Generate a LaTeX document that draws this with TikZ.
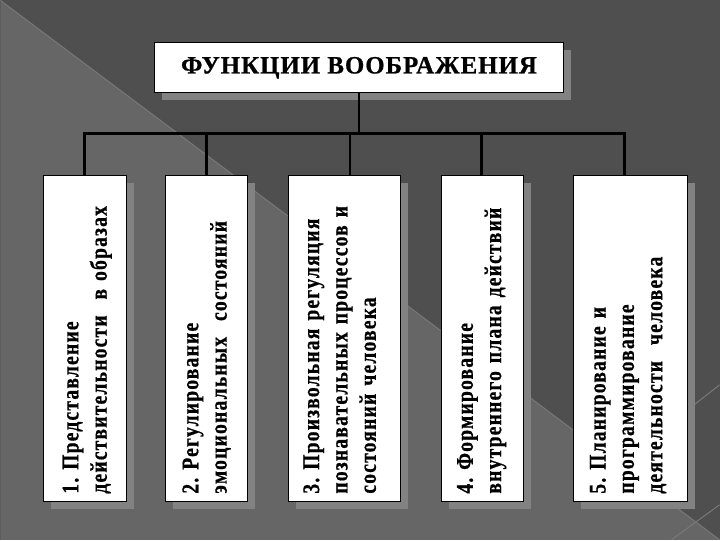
\documentclass[tikz,border=0pt]{standalone}
\usepackage{fontspec}
\setmainfont{Liberation Serif}
\newfontfamily\lblfont{Liberation Serif Bold}[FakeStretch=0.82,LetterSpace=5,FakeBold=0.6]
\newfontfamily\ttlfont{Liberation Serif Bold}[LetterSpace=4,FakeBold=0.8]
\definecolor{bgdark}{HTML}{4F4F4F}
\definecolor{bglight}{HTML}{666666}
\definecolor{bgline}{HTML}{787878}
\definecolor{shadowgray}{HTML}{828282}
\frenchspacing
\begin{document}
\begin{tikzpicture}[x=1bp,y=-1bp,
  bx/.style={draw=black,line width=0.9bp,fill=white,inner sep=0pt},
  shd/.style={fill=shadowgray,draw=none},
  conn/.style={line width=2.8bp,draw=black},
  deco/.style={draw=bgline,line width=1bp},
  lbl/.style={rotate=90,inner sep=0pt,anchor=north west,text width=330bp,align=left,
    font=\lblfont\fontsize{24}{28.5}\selectfont},
  ttl/.style={font=\ttlfont\fontsize{25}{30}\selectfont}]
% background
\fill[bgdark] (0,0) rectangle (720,540);
\fill[bglight] (0,0) -- (720,540) -- (0,540) -- cycle;
\draw[deco] (0,0) -- (720,540);
\draw[deco] (688,410) -- (720,385);
\draw[deco] (672,540) -- (720,505);
\useasboundingbox (0,0) rectangle (720,540);
% shadows
\fill[shd] (162,50) rectangle (571,100);
\fill[shd] (51,183) rectangle (134,509);
\fill[shd] (173,183) rectangle (255,509);
\fill[shd] (296,183) rectangle (408,509);
\fill[shd] (449,183) rectangle (531,509);
\fill[shd] (581,183) rectangle (695,509);
% title
\node[bx,minimum width=409bp,minimum height=50bp,anchor=north west,ttl] (t) at (154,42) {ФУНКЦИИ ВООБРАЖЕНИЯ};
% boxes
\node[bx,minimum width=83bp,minimum height=326bp,anchor=north west] (b1) at (43,175) {};
\node[bx,minimum width=82bp,minimum height=326bp,anchor=north west] (b2) at (165,175) {};
\node[bx,minimum width=112bp,minimum height=326bp,anchor=north west] (b3) at (288,175) {};
\node[bx,minimum width=82bp,minimum height=326bp,anchor=north west] (b4) at (441,175) {};
\node[bx,minimum width=114bp,minimum height=326bp,anchor=north west] (b5) at (573,175) {};
% connectors
\coordinate (bar) at (359,133);
\coordinate (j1) at (84,133);
\coordinate (j2) at (206,133);
\coordinate (j3) at (350,133);
\coordinate (j4) at (482,133);
\coordinate (j5) at (625,133);
\draw[conn] (t.south -| bar) -- (bar);
\draw[conn,line cap=rect] (j1) -- (j5);
\draw[conn] (j1) -- (j1 |- b1.north);
\draw[conn] (j2) -- (j2 |- b2.north);
\draw[conn] (j3) -- (j3 |- b3.north);
\draw[conn] (j4) -- (j4 |- b4.north);
\draw[conn] (j5) -- (j5 |- b5.north);
% labels
\node[lbl] (l1) at (62,494) {1. Представление\\действительности~~в образах};
\node[lbl] (l2) at (182,494) {2. Регулирование\\эмоциональных~~состояний};
\node[lbl] (l3) at (303,494) {3. Произвольная регуляция\\познавательных процессов и\\состояний человека};
\node[lbl] (l4) at (457,494) {4. Формирование\\внутреннего плана действий};
\node[lbl] (l5) at (590,494) {5. Планирование и\\программирование\\деятельности~~человека};
\end{tikzpicture}
\end{document}
